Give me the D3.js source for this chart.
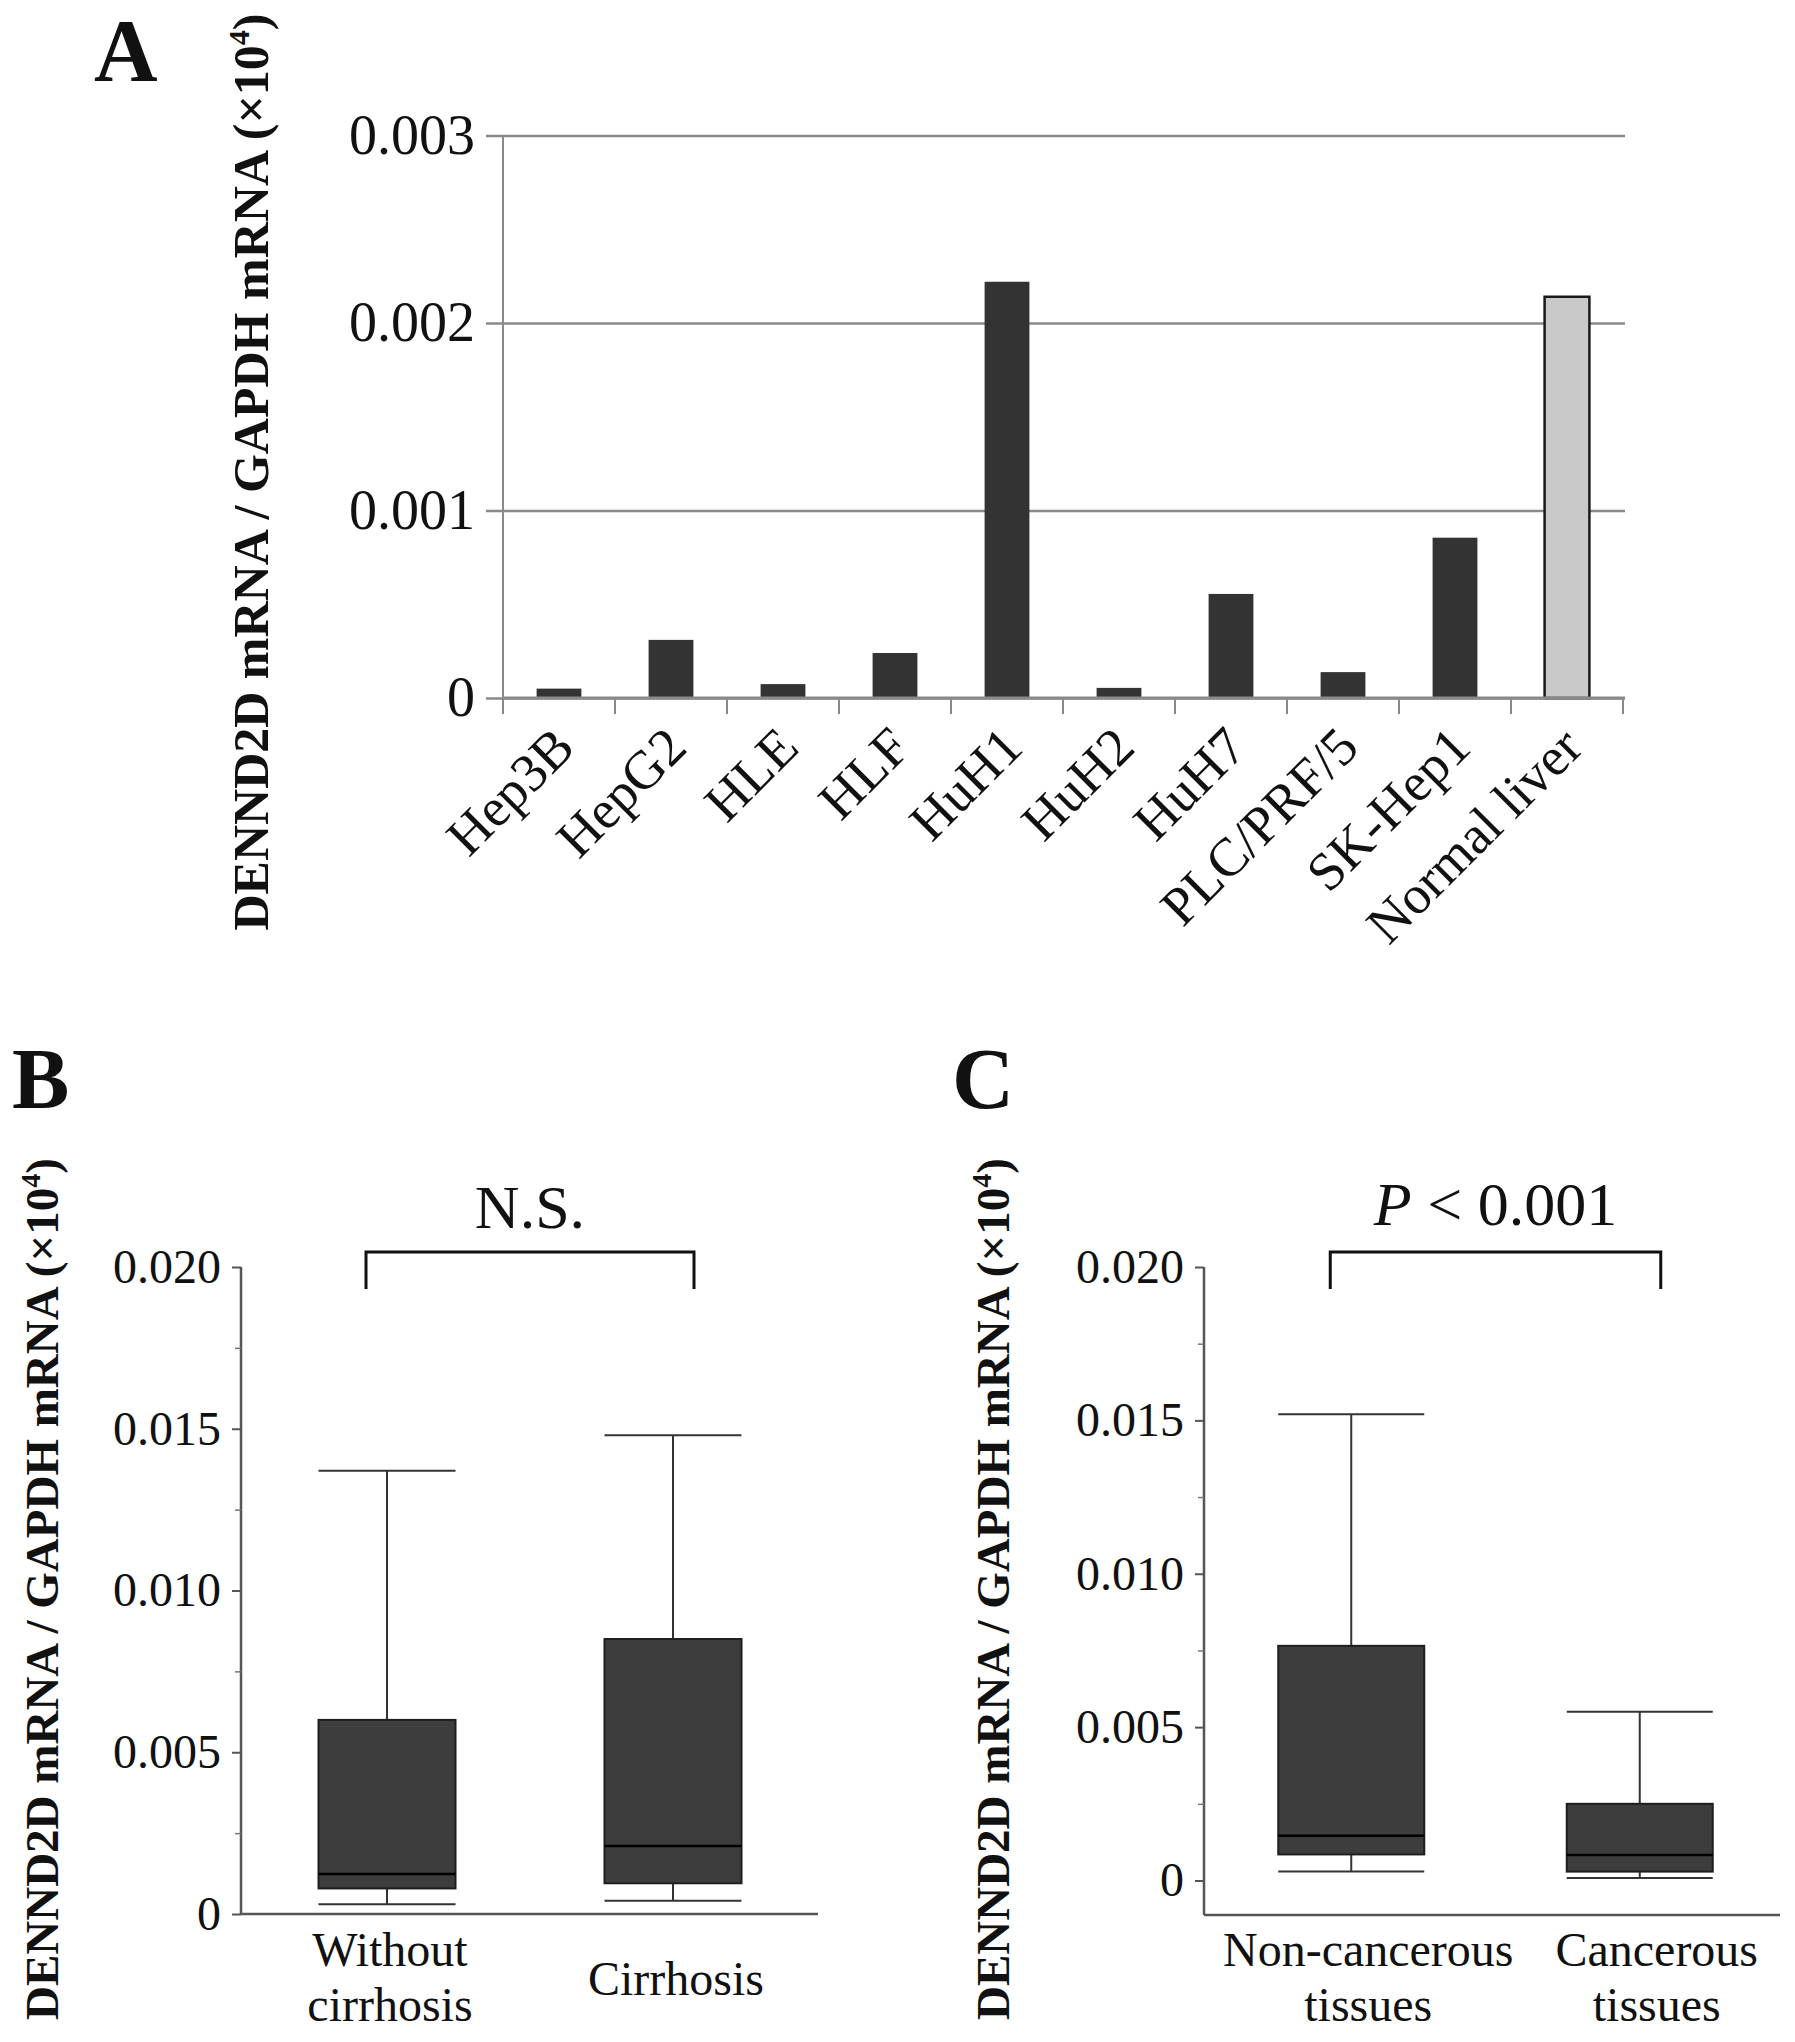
<!DOCTYPE html>
<html><head><meta charset="utf-8">
<script src="https://cdn.jsdelivr.net/npm/d3@7"></script>
<style>
body{margin:0;background:#fff;}
svg{display:block;font-family:"Liberation Serif","Times New Roman",serif;}
</style></head>
<body>
<svg id="chart" width="1795" height="2042"></svg>
<script>
// ---------- Data ----------
const categories = ["Hep3B","HepG2","HLE","HLF","HuH1","HuH2","HuH7","PLC/PRF/5","SK-Hep1","Normal liver"];
const expression = [0.00005, 0.00031, 0.000074, 0.00024, 0.00222, 0.000054, 0.000555, 0.000138, 0.000855, 0.00214];
const aTicks = [0, 0.001, 0.002, 0.003];
const aTickLabels = ["0", "0.001", "0.002", "0.003"];

const bGroups = ["Without cirrhosis", "Cirrhosis"];
const bLabelLines = [["Without", "cirrhosis"], ["Cirrhosis"]];
const bMin = [0.0003, 0.00041];
const bQ1 = [0.00079, 0.00095];
const bMedian = [0.00124, 0.0021];
const bQ3 = [0.006, 0.0085];
const bMax = [0.0137, 0.0148];

const cGroups = ["Non-cancerous tissues", "Cancerous tissues"];
const cLabelLines = [["Non-cancerous", "tissues"], ["Cancerous", "tissues"]];
const cMin = [0.00029, 0.00008];
const cQ1 = [0.00085, 0.00029];
const cMedian = [0.00146, 0.00083];
const cQ3 = [0.00765, 0.0025];
const cMax = [0.0152, 0.0055];

const boxTicks = [0, 0.005, 0.010, 0.015, 0.020];
const boxTickLabels = ["0", "0.005", "0.010", "0.015", "0.020"];
const boxMinorTicks = [0.0025, 0.0075, 0.0125, 0.0175];
const yLabelText = "DENND2D mRNA / GAPDH mRNA (×10";

const svg = d3.select("#chart");

function yLabel(g, x, y, size) {
  const t = g.append("text")
    .attr("transform", `translate(${x},${y}) rotate(-90)`)
    .attr("text-anchor", "middle")
    .attr("font-weight", "bold")
    .attr("font-size", size)
    .attr("fill", "#111");
  t.append("tspan").text(yLabelText);
  t.append("tspan").attr("dy", -size * 0.38).attr("font-size", size * 0.6).text("4");
  t.append("tspan").attr("dy", size * 0.38).text(")");
}

// ---------- Panel A ----------
{
  const g = svg.append("g");
  const x = d3.scaleBand().domain(categories).range([503, 1623]).padding(0);
  const y = d3.scaleLinear().domain([0, 0.003]).range([698, 135.5]);

  const grid = d3.axisLeft(y).tickValues(aTicks)
    .tickFormat((d, i) => aTickLabels[i])
    .tickSizeInner(1625 - 486).tickSizeOuter(0).tickPadding(11);
  const ga = g.append("g").attr("transform", "translate(1625,0)").call(grid);
  ga.select(".domain").remove();
  ga.selectAll(".tick line").attr("stroke", "#8a8a8a").attr("stroke-width", 2.5);
  ga.selectAll(".tick text").attr("font-size", 56).attr("fill", "#111")
    .attr("font-family", "'Liberation Serif','Times New Roman',serif");

  g.append("line").attr("x1", 503).attr("x2", 503).attr("y1", y(0.003)).attr("y2", y(0))
    .attr("stroke", "#8a8a8a").attr("stroke-width", 2);

  const bw = x.bandwidth() * 0.4;
  g.selectAll("rect.bar").data(categories).enter().append("rect")
    .attr("class", "bar")
    .attr("x", d => x(d) + (x.bandwidth() - bw) / 2)
    .attr("width", bw)
    .attr("y", (d, i) => y(expression[i]))
    .attr("height", (d, i) => y(0) - y(expression[i]))
    .attr("fill", (d, i) => i === categories.length - 1 ? "#c9c9c9" : "#333333")
    .attr("stroke", (d, i) => i === categories.length - 1 ? "#1a1a1a" : "none")
    .attr("stroke-width", 2.5);

  g.append("line").attr("x1", 503).attr("x2", 1625).attr("y1", y(0)).attr("y2", y(0))
    .attr("stroke", "#8a8a8a").attr("stroke-width", 3);
  const edges = categories.map(d => x(d)).concat([x.range()[1]]);
  g.selectAll("line.xt").data(edges).enter().append("line")
    .attr("class", "xt")
    .attr("x1", d => d).attr("x2", d => d)
    .attr("y1", y(0)).attr("y2", y(0) + 16)
    .attr("stroke", "#8a8a8a").attr("stroke-width", 2);

  g.selectAll("text.cat").data(categories).enter().append("text")
    .attr("class", "cat")
    .attr("transform", d => `translate(${x(d) + x.bandwidth() / 2 + 18},750) rotate(-45)`)
    .attr("text-anchor", "end")
    .attr("font-size", 54)
    .attr("fill", "#111")
    .text(d => d);

  yLabel(g, 268, 472, 50);
  g.append("text").attr("x", 94).attr("y", 80).attr("font-size", 88)
    .attr("font-weight", "bold").attr("fill", "#111").text("A");
}

// ---------- Box panels ----------
function boxPanel(opts) {
  const g = svg.append("g");
  const x = d3.scaleBand().domain(opts.groups).range(opts.xRange).padding(0);
  const y = d3.scaleLinear().domain([0, 0.02]).range([opts.zeroY, 1267]);
  const axisX = opts.axisX, axisBottom = opts.axisBottom;

  g.append("line").attr("x1", axisX).attr("x2", axisX).attr("y1", 1267).attr("y2", axisBottom)
    .attr("stroke", "#555").attr("stroke-width", 2.5);
  g.append("line").attr("x1", axisX).attr("x2", opts.xEnd).attr("y1", axisBottom).attr("y2", axisBottom)
    .attr("stroke", "#555").attr("stroke-width", 2.5);

  const ax = d3.axisLeft(y).tickValues(boxTicks).tickFormat((d, i) => boxTickLabels[i])
    .tickSizeInner(9).tickSizeOuter(0).tickPadding(11);
  const ga = g.append("g").attr("transform", `translate(${axisX},0)`).call(ax);
  ga.select(".domain").remove();
  ga.selectAll(".tick line").attr("stroke", "#555").attr("stroke-width", 2);
  ga.selectAll(".tick text").attr("font-size", 48).attr("fill", "#111")
    .attr("font-family", "'Liberation Serif','Times New Roman',serif");

  const axm = d3.axisLeft(y).tickValues(boxMinorTicks).tickFormat("").tickSizeInner(6).tickSizeOuter(0);
  const gm = g.append("g").attr("transform", `translate(${axisX},0)`).call(axm);
  gm.select(".domain").remove();
  gm.selectAll(".tick line").attr("stroke", "#777").attr("stroke-width", 1.5);

  const bw = opts.boxWidth;
  opts.groups.forEach((grp, i) => {
    const cx = x(grp) + x.bandwidth() / 2;
    const x0 = cx - bw / 2, x1 = cx + bw / 2;
    g.append("line").attr("x1", cx).attr("x2", cx).attr("y1", y(opts.max[i])).attr("y2", y(opts.q3[i]))
      .attr("stroke", "#333").attr("stroke-width", 2);
    g.append("line").attr("x1", cx).attr("x2", cx).attr("y1", y(opts.q1[i])).attr("y2", y(opts.min[i]))
      .attr("stroke", "#333").attr("stroke-width", 2);
    g.append("line").attr("x1", x0).attr("x2", x1).attr("y1", y(opts.max[i])).attr("y2", y(opts.max[i]))
      .attr("stroke", "#333").attr("stroke-width", 2);
    g.append("line").attr("x1", x0).attr("x2", x1).attr("y1", y(opts.min[i])).attr("y2", y(opts.min[i]))
      .attr("stroke", "#333").attr("stroke-width", 2);
    g.append("rect").attr("x", x0).attr("width", bw)
      .attr("y", y(opts.q3[i])).attr("height", y(opts.q1[i]) - y(opts.q3[i]))
      .attr("fill", "#3d3d3d").attr("stroke", "#1e1e1e").attr("stroke-width", 2);
    g.append("line").attr("x1", x0).attr("x2", x1).attr("y1", y(opts.median[i])).attr("y2", y(opts.median[i]))
      .attr("stroke", "#000").attr("stroke-width", 2.5);
    const lines = opts.labelLines[i];
    const t = g.append("text").attr("text-anchor", "middle").attr("font-size", 48).attr("fill", "#111");
    if (lines.length === 1) {
      t.append("tspan").attr("x", cx + opts.labelShift).attr("y", 1995).text(lines[0]);
    } else {
      t.append("tspan").attr("x", cx + opts.labelShift).attr("y", 1966).text(lines[0]);
      t.append("tspan").attr("x", cx + opts.labelShift).attr("y", 2021).text(lines[1]);
    }
  });

  const c0 = x(opts.groups[0]) + x.bandwidth() / 2 - 21;
  const c1 = x(opts.groups[1]) + x.bandwidth() / 2 + 21;
  g.append("path").attr("d", `M${c0},1289V1252H${c1}V1289`)
    .attr("fill", "none").attr("stroke", "#111").attr("stroke-width", 3);
  opts.sig(g, (c0 + c1) / 2);

  yLabel(g, opts.yLabelX, 1589, 47);
  g.append("text").attr("x", opts.letterX).attr("y", 1108).attr("font-size", 86)
    .attr("font-weight", "bold").attr("fill", "#111").text(opts.letter);
}

boxPanel({
  groups: bGroups, labelLines: bLabelLines,
  min: bMin, q1: bQ1, median: bMedian, q3: bQ3, max: bMax,
  xRange: [244, 816], zeroY: 1914, axisX: 241, axisBottom: 1914, xEnd: 818,
  boxWidth: 137, labelShift: 3, yLabelX: 58, letter: "B", letterX: 12,
  sig: (g, cx) => g.append("text").attr("x", cx).attr("y", 1228).attr("text-anchor", "middle")
    .attr("font-size", 62).attr("fill", "#111").text("N.S.")
});

boxPanel({
  groups: cGroups, labelLines: cLabelLines,
  min: cMin, q1: cQ1, median: cMedian, q3: cQ3, max: cMax,
  xRange: [1207, 1784], zeroY: 1880.5, axisX: 1204, axisBottom: 1915, xEnd: 1780,
  boxWidth: 146, labelShift: 17, yLabelX: 1009, letter: "C", letterX: 952,
  sig: (g, cx) => {
    const t = g.append("text").attr("x", cx).attr("y", 1225).attr("text-anchor", "middle")
      .attr("font-size", 62).attr("fill", "#111");
    t.append("tspan").attr("font-style", "italic").text("P");
    t.append("tspan").text(" < 0.001");
  }
});
</script>
</body></html>
